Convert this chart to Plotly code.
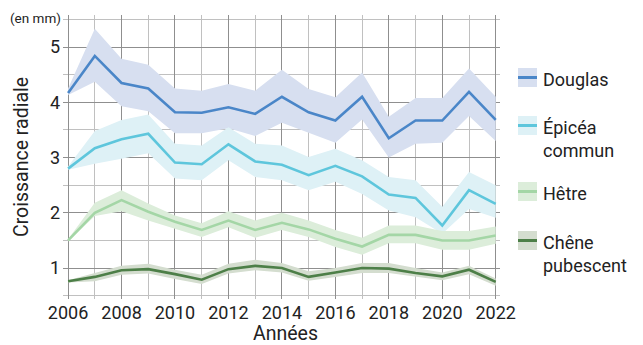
import plotly.graph_objects as go

# Croissance radiale annuelle moyenne (mm) avec intervalle, par essence
annees = list(range(2006, 2023))

douglas = [4.17, 4.84, 4.35, 4.25, 3.82, 3.81, 3.91, 3.79, 4.10, 3.82, 3.67, 4.10, 3.35, 3.67, 3.67, 4.19, 3.68]
douglas_haut = [4.25, 5.33, 4.79, 4.68, 4.25, 4.21, 4.33, 4.21, 4.59, 4.24, 4.09, 4.54, 3.74, 4.08, 4.08, 4.61, 4.10]
douglas_bas = [4.13, 4.37, 3.93, 3.84, 3.44, 3.44, 3.53, 3.39, 3.63, 3.45, 3.27, 3.69, 3.00, 3.25, 3.27, 3.75, 3.30]

epicea = [2.80, 3.17, 3.33, 3.43, 2.91, 2.88, 3.24, 2.93, 2.87, 2.68, 2.85, 2.66, 2.33, 2.27, 1.77, 2.41, 2.16]
epicea_haut = [2.84, 3.48, 3.68, 3.78, 3.25, 3.22, 3.55, 3.25, 3.22, 3.01, 3.16, 2.95, 2.65, 2.59, 2.11, 2.74, 2.50]
epicea_bas = [2.78, 2.89, 2.98, 3.08, 2.62, 2.59, 2.95, 2.65, 2.59, 2.41, 2.56, 2.34, 2.04, 1.92, 1.62, 2.07, 1.91]

hetre = [1.50, 2.00, 2.23, 2.02, 1.84, 1.69, 1.86, 1.69, 1.82, 1.70, 1.53, 1.39, 1.60, 1.60, 1.50, 1.50, 1.59]
hetre_haut = [1.52, 2.18, 2.41, 2.17, 1.95, 1.81, 2.03, 1.86, 2.00, 1.86, 1.69, 1.55, 1.77, 1.77, 1.67, 1.67, 1.75]
hetre_bas = [1.48, 1.94, 2.03, 1.86, 1.71, 1.56, 1.74, 1.55, 1.69, 1.56, 1.38, 1.24, 1.45, 1.45, 1.33, 1.33, 1.44]

chene = [0.76, 0.84, 0.96, 0.98, 0.89, 0.79, 0.98, 1.04, 1.00, 0.84, 0.92, 1.00, 0.99, 0.91, 0.85, 0.97, 0.75]
chene_haut = [0.78, 0.91, 1.04, 1.08, 0.97, 0.88, 1.08, 1.15, 1.09, 0.94, 1.00, 1.09, 1.09, 1.00, 0.92, 1.04, 0.81]
chene_bas = [0.74, 0.76, 0.88, 0.90, 0.80, 0.71, 0.90, 0.96, 0.92, 0.77, 0.84, 0.91, 0.91, 0.84, 0.78, 0.89, 0.68]

essences = [
    ("Douglas", douglas, douglas_bas, douglas_haut, "#4a86c8", "#d7dff0"),
    ("Épicéa<br>commun", epicea, epicea_bas, epicea_haut, "#5ec6dc", "#def1f6"),
    ("Hêtre", hetre, hetre_bas, hetre_haut, "#a4d6a6", "#dcedda"),
    ("Chêne<br>pubescent", chene, chene_bas, chene_haut, "#4d7f48", "#d4ddcf"),
]

FONT = "Roboto"
TEXT = "#222222"

# plot area in pixels
W, H = 643, 345
ML, MR, MT, MB = 63, 143, 15, 46
PW, PH = W - ML - MR, H - MT - MB


def px(x):
    return (x - ML) / PW


def py(y):
    return (H - MB - y) / PH


fig = go.Figure()

# intervals first, then mean lines on top
for nom, moy, bas, haut, lc, fc in essences:
    fig.add_trace(go.Scatter(x=annees, y=bas, mode="lines", line=dict(width=0),
                             hoverinfo="skip", showlegend=False))
    fig.add_trace(go.Scatter(x=annees, y=haut, mode="lines", line=dict(width=0),
                             fill="tonexty", fillcolor=fc, hoverinfo="skip", showlegend=False))
for nom, moy, bas, haut, lc, fc in essences:
    fig.add_trace(go.Scatter(x=annees, y=moy, mode="lines", line=dict(color=lc, width=2.6),
                             name=nom.replace("<br>", " "), showlegend=False))

# legend: swatch (interval colour + line) and label
legende_y = [68, 116, 182, 231]
shapes = []
annotations = []
for (nom, moy, bas, haut, lc, fc), y0 in zip(essences, legende_y):
    shapes.append(dict(type="rect", xref="paper", yref="paper",
                       x0=px(518), x1=px(537), y0=py(y0 + 19), y1=py(y0),
                       fillcolor=fc, line=dict(width=0), layer="above"))
    shapes.append(dict(type="line", xref="paper", yref="paper",
                       x0=px(518), x1=px(537), y0=py(y0 + 9.5), y1=py(y0 + 9.5),
                       line=dict(color=lc, width=3), layer="above"))
    annotations.append(dict(text=nom, xref="paper", yref="paper", x=px(541), y=py(y0 - 1),
                            xanchor="left", yanchor="top", showarrow=False, align="left",
                            font=dict(family=FONT, size=18, color=TEXT)))

annotations.append(dict(text="(en mm)", xref="paper", yref="paper", x=px(63), y=py(18),
                        xanchor="right", yanchor="middle", showarrow=False,
                        font=dict(family=FONT, size=13.5, color=TEXT)))
annotations.append(dict(text="Années", xref="paper", yref="paper", x=px(285), y=py(333.5),
                        xanchor="center", yanchor="middle", showarrow=False, borderpad=0,
                        font=dict(family=FONT, size=19.5, color=TEXT)))

grid_major = "#8f8f8f"
grid_minor = "#c0c0c0"

fig.update_layout(
    width=W, height=H,
    margin=dict(l=ML, r=MR, t=MT, b=MB, autoexpand=False),
    paper_bgcolor="white", plot_bgcolor="white",
    font=dict(family=FONT, color=TEXT),
    shapes=shapes, annotations=annotations,
    xaxis=dict(
        range=[2005.81, 2022.16], tick0=2006, dtick=2, showline=False, zeroline=False,
        automargin=False,
        showgrid=True, gridcolor=grid_major, gridwidth=1.2,
        minor=dict(dtick=1, tick0=2006, showgrid=True, gridcolor=grid_minor, gridwidth=1.2),
        tickfont=dict(size=18, color=TEXT), ticklabelstandoff=1,
    ),
    yaxis=dict(
        range=[0.44, 5.58], tick0=0, dtick=1, showline=False, zeroline=False,
        automargin=False,
        showgrid=True, gridcolor=grid_major, gridwidth=1.2,
        minor=dict(dtick=0.5, tick0=0, showgrid=True, gridcolor=grid_minor, gridwidth=1.2),
        tickfont=dict(size=18, color=TEXT), ticklabelstandoff=2,
        title=dict(text="Croissance radiale", font=dict(size=19.5, color=TEXT), standoff=16),
    ),
)

fig.write_html("out.html")
